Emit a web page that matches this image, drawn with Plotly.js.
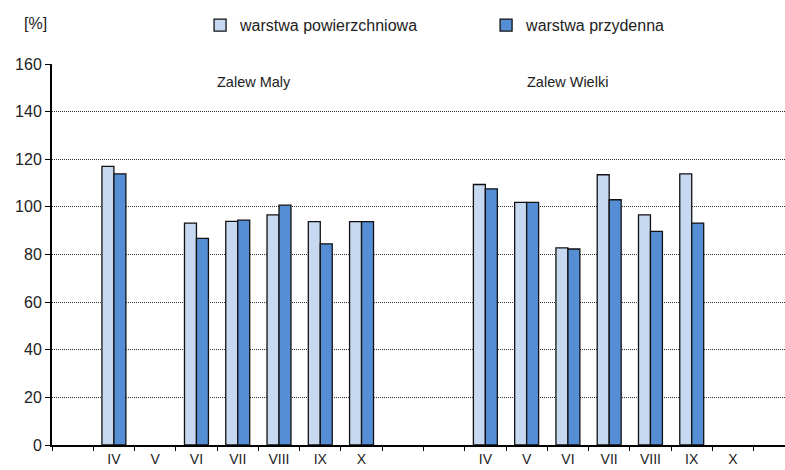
<!DOCTYPE html>
<html><head><meta charset="utf-8">
<script src="https://cdn.plot.ly/plotly-3.0.1.min.js"></script>
<style>body{margin:0;padding:0;background:#fff}#chart{width:785px;height:470px}</style>
</head><body><div id="chart"></div>
<script>
var months = ['IV','V','VI','VII','VIII','IX','X'];
var groups = ['Zalew Maly','Zalew Wielki'];
var seriesNames = ['warstwa powierzchniowa','warstwa przydenna'];
var malyPow   = [117.0, null, 93.2, 93.9, 96.6, 93.8, 93.8];
var malyPrz   = [113.9, null, 86.8, 94.4, 100.7, 84.5, 93.8];
var wielkiPow = [109.4, 101.9, 82.8, 113.5, 96.6, 113.9, null];
var wielkiPrz = [107.6, 101.9, 82.3, 103.0, 89.7, 93.2, null];
var yTicks = [0,20,40,60,80,100,120,140,160];

// full category sequence: blank, Maly months, two blanks, Wielki months, blank
var cats = [''].concat(months, ['',''], months, ['']);
var idx = cats.map(function(c,i){return i;});
var malyX = months.map(function(m,i){return 1+i;});
var wielkiX = months.map(function(m,i){return 10+i;});

var font = 'Liberation Sans, Arial, sans-serif';
var trPow = {type:'bar', name:seriesNames[0], x:malyX.concat(wielkiX), y:malyPow.concat(wielkiPow),
  legend:'legend', marker:{color:'#C6D9F1', line:{color:'#111', width:1.3}}};
var trPrz = {type:'bar', name:seriesNames[1], x:malyX.concat(wielkiX), y:malyPrz.concat(wielkiPrz),
  legend:'legend2', marker:{color:'#558ED5', line:{color:'#111', width:1.3}}};
var tickTrace = {type:'scatter', x:[0], y:[0], xaxis:'x2', mode:'markers', marker:{opacity:0}, showlegend:false, hoverinfo:'skip'};

var xr = [-0.5, 17.26];
var legFont = {size:16, color:'#222'};
var layout = {
  width:785, height:470,
  margin:{l:52, r:0, t:64, b:25},
  paper_bgcolor:'#fff', plot_bgcolor:'#fff',
  font:{family:font, size:14, color:'#222'},
  barmode:'group', bargap:0.42, bargroupgap:0,
  showlegend:true,
  legend:{orientation:'h', x:0.2020, xanchor:'left', y:1.102, yanchor:'middle',
    font:legFont, bgcolor:'rgba(0,0,0,0)'},
  legend2:{orientation:'h', x:0.5922, xanchor:'left', y:1.102, yanchor:'middle',
    font:legFont, bgcolor:'rgba(0,0,0,0)'},
  xaxis:{range:xr, tickmode:'array', tickvals:idx, ticktext:cats, ticks:'', showgrid:false,
    zeroline:false, showline:true, linecolor:'#000', linewidth:2, tickfont:{size:14, color:'#222'}},
  xaxis2:{range:xr, overlaying:'x', side:'bottom', anchor:'y', tickmode:'array',
    tickvals:idx.map(function(i){return i-0.5;}).concat([cats.length-0.5]),
    ticks:'outside', ticklen:5, tickwidth:1, tickcolor:'#000', showticklabels:false,
    showgrid:false, zeroline:false, showline:false},
  yaxis:{range:[0,160], tickmode:'array', tickvals:yTicks, ticks:'outside', ticklen:5,
    tickcolor:'#000', showline:true, linecolor:'#000', linewidth:2, zeroline:false,
    showgrid:true, gridcolor:'#333', griddash:'1px,1px', gridwidth:1, tickfont:{size:16, color:'#222'}},
  annotations:[
    {text:'[%]', xref:'paper', yref:'paper', x:-0.041, y:1.105, xanchor:'left', yanchor:'middle', showarrow:false, font:{size:16,color:'#222'}},
    {text:groups[0], xref:'x', yref:'paper', x:4.4, y:0.953, xanchor:'center', yanchor:'middle', showarrow:false, font:{size:14.5,color:'#222'}},
    {text:groups[1], xref:'x', yref:'paper', x:12.0, y:0.953, xanchor:'center', yanchor:'middle', showarrow:false, font:{size:14.5,color:'#222'}}
  ]
};
Plotly.newPlot('chart',[trPow,trPrz,tickTrace],layout,{displayModeBar:false, staticPlot:true});
</script></body></html>
